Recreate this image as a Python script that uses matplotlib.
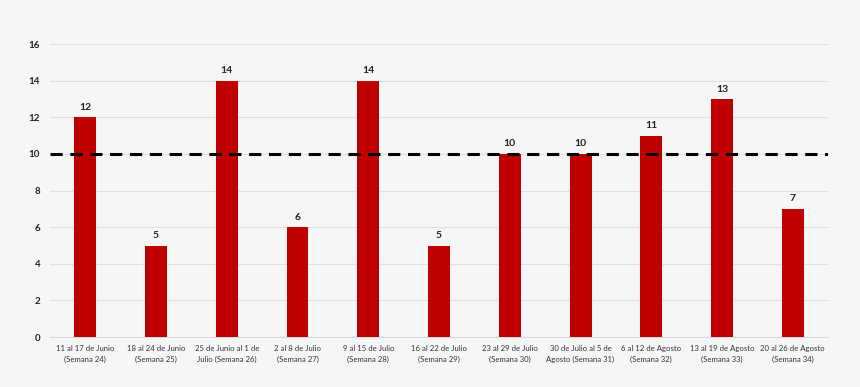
import matplotlib
matplotlib.use("Agg")
import matplotlib.pyplot as plt

categories = ["11 al 17 de Junio\n(Semana 24)", "18 al 24 de Junio\n(Semana 25)",
              "25 de Junio al 1 de\nJulio (Semana 26)", "2 al 8 de Julio\n(Semana 27)",
              "9 al 15 de Julio\n(Semana 28)", "16 al 22 de Julio\n(Semana 29)",
              "23 al 29 de Julio\n(Semana 30)", "30 de Julio al 5 de\nAgosto (Semana 31)",
              "6 al 12 de Agosto\n(Semana 32)", "13 al 19 de Agosto\n(Semana 33)",
              "20 al 26 de Agosto\n(Semana 34)"]
values = [12, 5, 14, 6, 14, 5, 10, 10, 11, 13, 7]
threshold = 10
yticks = [0, 2, 4, 6, 8, 10, 12, 14, 16]

plt.rcParams['font.family'] = ['Lato', 'DejaVu Sans']
bg = "#f6f6f6"
fig = plt.figure(figsize=(8.6, 3.87), dpi=100, facecolor=bg)
ax = fig.add_axes([0.058, 0.129, 0.905, 0.757], facecolor=bg)

x = list(range(len(values)))
ax.bar(x, values, width=0.31, color="#C00000", zorder=3)
for xi, v in zip(x, values):
    ax.text(xi, v + 0.3, str(v), ha="center", va="bottom", fontsize=7.5, fontweight="bold", color="#222222", zorder=4)
ax.axhline(threshold, color="black", linestyle=(0, (4, 2.5)), linewidth=2.2, zorder=5)

ax.set_xlim(-0.5, len(values) - 0.5)
ax.set_ylim(0, 16)
ax.set_yticks(yticks)
ax.set_yticklabels([str(t) for t in yticks], fontsize=7, fontweight="bold", color="#222222")
ax.set_xticks(x)
ax.set_xticklabels(categories, fontsize=5.6, color="#333333", linespacing=1.5)
ax.grid(axis="y", color="#e0e0e0", linewidth=0.8, zorder=0)
for s in ["top", "right", "left"]:
    ax.spines[s].set_visible(False)
ax.spines["bottom"].set_color("#d9d9d9")
ax.tick_params(axis="y", length=0, pad=7)
ax.tick_params(axis="x", length=0, pad=6)

fig.savefig("out.png", dpi=100, facecolor=bg)
